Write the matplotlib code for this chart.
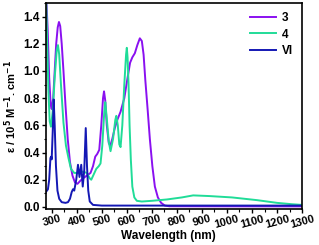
import numpy as np
import matplotlib.pyplot as plt
from matplotlib.ticker import MultipleLocator

plt.rcParams['font.family'] = ['Liberation Sans', 'DejaVu Sans']
plt.rcParams['font.weight'] = 'bold'

# compound 3 (purple)
wl3 = [277, 284, 290, 296, 300, 306, 312, 318, 324, 329, 334, 340, 347, 355, 364, 373, 383, 393, 403, 413,
       425, 440, 455, 465, 474, 482, 490, 498, 505, 509, 514, 520, 528, 534, 542, 552, 562, 575, 590, 603,
       613, 622, 632, 642, 652, 660, 667, 674, 683, 692, 702, 712, 724, 737, 752, 770, 1300]
eps3 = [1.6, 1.3, 0.95, 0.75, 0.72, 0.8, 1.0, 1.2, 1.32, 1.36, 1.33, 1.2, 1.0, 0.75, 0.5, 0.33, 0.23, 0.18, 0.17, 0.19,
        0.21, 0.23, 0.25, 0.3, 0.37, 0.39, 0.42, 0.6, 0.8, 0.85, 0.78, 0.6, 0.47, 0.45, 0.5, 0.58, 0.64, 0.7, 0.8, 0.95,
        1.06, 1.1, 1.13, 1.19, 1.24, 1.22, 1.12, 0.93, 0.72, 0.5, 0.3, 0.15, 0.07, 0.03, 0.01, 0.005, 0.004]

# compound 4 (green)
wl4 = [277, 282, 287, 292, 297, 304, 312, 320, 325, 330, 337, 347, 357, 367, 377, 390, 410, 425, 440, 452,
       458, 468, 478, 488, 495, 502, 510, 514, 520, 528, 535, 545, 554, 558, 564, 570, 575, 582, 590, 597,
       600, 603, 607, 611, 616, 622, 630, 640, 660, 700, 760, 820, 865, 930, 1020, 1120, 1200, 1260, 1300]
eps4 = [1.6, 1.2, 0.85, 0.63, 0.59, 0.7, 0.95, 1.15, 1.19, 1.12, 0.9, 0.62, 0.45, 0.36, 0.28, 0.25, 0.25, 0.26, 0.25, 0.21,
        0.2, 0.24, 0.28, 0.3, 0.32, 0.45, 0.7, 0.77, 0.65, 0.48, 0.41, 0.5, 0.64, 0.67, 0.6, 0.46, 0.44, 0.6, 0.9, 1.12,
        1.17, 1.1, 0.9, 0.6, 0.35, 0.15, 0.07, 0.045, 0.04, 0.045, 0.055, 0.07, 0.085, 0.08, 0.07, 0.05, 0.03, 0.02, 0.015]

# compound VI (blue)
wlVI = [277, 285, 290, 295, 298, 300, 304, 308, 312, 317, 323, 330, 340, 355, 365, 373, 380, 385, 390, 398,
        405, 411, 418, 424, 430, 436, 441, 446, 452, 465, 500, 1300]
epsVI = [0.11, 0.13, 0.2, 0.36, 0.37, 0.35, 0.55, 0.79, 0.6, 0.3, 0.12, 0.06, 0.035, 0.03, 0.035, 0.06, 0.11, 0.13, 0.12, 0.2,
         0.31, 0.22, 0.31, 0.15, 0.27, 0.58, 0.3, 0.12, 0.04, 0.015, 0.01, 0.01]

fig = plt.figure(figsize=(3.19, 2.45), dpi=100)
ax = fig.add_axes([0.144, 0.147, 0.803, 0.841])

ax.plot(wl3, eps3, color='#8A10F0', lw=1.4, label='3')
ax.plot(wl4, eps4, color='#20DC98', lw=1.4, label='4')
ax.plot(wlVI, epsVI, color='#1418B4', lw=1.4, label='VI')

ax.set_xlim(277, 1300)
ax.set_ylim(-0.015, 1.5)
ax.xaxis.set_major_locator(MultipleLocator(100))
ax.xaxis.set_minor_locator(MultipleLocator(50))
ax.yaxis.set_major_locator(MultipleLocator(0.2))
ax.yaxis.set_minor_locator(MultipleLocator(0.1))
ax.yaxis.set_major_formatter(plt.FormatStrFormatter('%.1f'))

ax.tick_params(which='major', direction='out', length=3, width=1, labelsize=8.5)
ax.tick_params(which='minor', direction='out', length=1.8, width=0.8)
ax.tick_params(axis='x', labelsize=8, pad=0.5)
ax.tick_params(axis='y', pad=1.5)
for lab in ax.get_xticklabels():
    lab.set_rotation(15)
    lab.set_fontweight('bold')
for lab in ax.get_yticklabels():
    lab.set_fontweight('bold')
for s in ax.spines.values():
    s.set_linewidth(1.2)

ax.set_xlabel('Wavelength (nm)', fontsize=8.5, fontweight='bold')
ax.xaxis.set_label_coords(0.477, -0.1)
ax.set_ylabel('ε / 10$^{\\mathbf{5}}$ M$^{\\mathbf{-1}}$. cm$^{\\mathbf{-1}}$', fontsize=8, fontweight='bold', labelpad=3)

ax.legend(loc='upper right', frameon=False, handlelength=2.2, handletextpad=0.5,
          labelspacing=0.35, borderaxespad=0.4, prop={'weight': 'bold', 'size': 8.5})

fig.savefig('out.png', dpi=100)
